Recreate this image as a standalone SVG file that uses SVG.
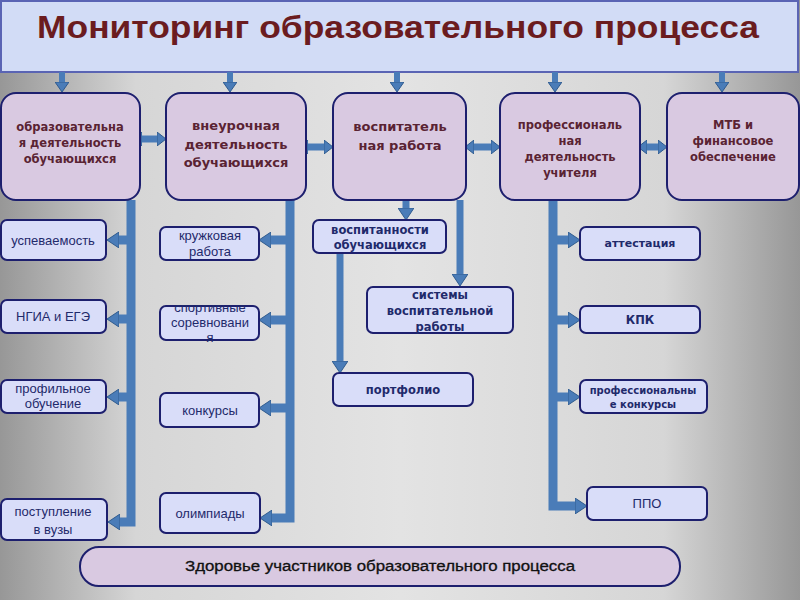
<svg xmlns="http://www.w3.org/2000/svg" width="800" height="600" viewBox="0 0 800 600">
<defs>
<linearGradient id="bg" x1="0" y1="0" x2="1" y2="0">
<stop offset="0" stop-color="#979797"/>
<stop offset="0.17" stop-color="#d6d6d6"/>
<stop offset="0.5" stop-color="#e3e3e3"/>
<stop offset="0.83" stop-color="#d6d6d6"/>
<stop offset="1" stop-color="#979797"/>
</linearGradient>
<marker id="h" viewBox="0 -8 12 16" refX="0" refY="0" markerWidth="12" markerHeight="16" markerUnits="userSpaceOnUse" orient="auto-start-reverse">
<path d="M0,-8 L12,0 L0,8 z" fill="#4a7cb8" stroke="#2f5a8e" stroke-width="1"/>
</marker>
<marker id="hd" viewBox="0 -7 9 14" refX="0" refY="0" markerWidth="9" markerHeight="14" markerUnits="userSpaceOnUse" orient="auto-start-reverse">
<path d="M0,-7 L9,0 L0,7 z" fill="#4a7cb8" stroke="#2f5a8e" stroke-width="1"/>
</marker>
<marker id="hs" viewBox="0 -7 10 14" refX="0" refY="0" markerWidth="10" markerHeight="14" markerUnits="userSpaceOnUse" orient="auto">
<path d="M0,-7 L10,0 L0,7 z" fill="#4a7cb8" stroke="#2f5a8e" stroke-width="1"/>
</marker>
</defs>
<style>
.top{fill:#d9c9e1;stroke:#1d1f6e;stroke-width:2}
.sub{fill:#d9ddf9;stroke:#1d1f6e;stroke-width:2}
.tt{font-family:"DejaVu Sans",sans-serif;font-weight:bold;fill:#5a2333;text-anchor:middle}
.st{font-family:"Liberation Sans",Arial,sans-serif;fill:#1f2a6b;text-anchor:middle;font-size:13px}
.sb{font-family:"DejaVu Sans",sans-serif;font-weight:bold;fill:#1f2a6b;text-anchor:middle}
.c{fill:none;stroke:#4a7cb8;stroke-width:9;stroke-linejoin:miter}
.c7{fill:none;stroke:#4a7cb8;stroke-width:7}
.cs{fill:none;stroke:#4a7cb8;stroke-width:6}
</style>
<rect x="0" y="0" width="800" height="600" fill="url(#bg)"/>

<g id="title">
<rect x="1" y="1" width="797" height="71" fill="#d2dcf6" stroke="#5a64b4" stroke-width="2"/>
<text x="398" y="38" font-family="'Liberation Sans Narrow','Liberation Sans',Arial,sans-serif" font-weight="bold" font-size="32" fill="#6b1c1f" text-anchor="middle" textLength="722" lengthAdjust="spacingAndGlyphs">Мониторинг образовательного процесса</text>
</g>

<g id="connectors">
<line class="cs" x1="62" y1="72" x2="62" y2="82" marker-end="url(#hs)"/>
<line class="cs" x1="230" y1="72" x2="230" y2="82" marker-end="url(#hs)"/>
<line class="cs" x1="397" y1="72" x2="397" y2="82" marker-end="url(#hs)"/>
<line class="cs" x1="555" y1="72" x2="555" y2="82" marker-end="url(#hs)"/>
<line class="cs" x1="722" y1="72" x2="722" y2="82" marker-end="url(#hs)"/>

<line class="c7" x1="142" y1="139" x2="157" y2="139" marker-start="url(#hd)" marker-end="url(#hd)"/>
<line class="c7" x1="308" y1="147" x2="324" y2="147" marker-start="url(#hd)" marker-end="url(#hd)"/>
<line class="c7" x1="474" y1="147" x2="491" y2="147" marker-start="url(#hd)" marker-end="url(#hd)"/>
<line class="c7" x1="647" y1="147" x2="658" y2="147" marker-start="url(#hd)" marker-end="url(#hd)"/>

<path class="c" d="M131,200 V522 H120" marker-end="url(#h)"/>
<line class="c" x1="127" y1="240" x2="119" y2="240" marker-end="url(#h)"/>
<line class="c" x1="127" y1="319" x2="119" y2="319" marker-end="url(#h)"/>
<line class="c" x1="127" y1="397" x2="119" y2="397" marker-end="url(#h)"/>

<path class="c" d="M290,200 V518 H272" marker-end="url(#h)"/>
<line class="c" x1="286" y1="240" x2="271" y2="240" marker-end="url(#h)"/>
<line class="c" x1="286" y1="320" x2="271" y2="320" marker-end="url(#h)"/>
<line class="c" x1="286" y1="408" x2="271" y2="408" marker-end="url(#h)"/>

<path class="c" d="M553,200 V506 H575" marker-end="url(#h)"/>
<line class="c" x1="557" y1="240" x2="568" y2="240" marker-end="url(#h)"/>
<line class="c" x1="557" y1="320" x2="568" y2="320" marker-end="url(#h)"/>
<line class="c" x1="557" y1="397" x2="568" y2="397" marker-end="url(#h)"/>

<line class="c7" x1="406" y1="200" x2="406" y2="208" marker-end="url(#h)"/>
<line class="c7" x1="460" y1="200" x2="460" y2="274" marker-end="url(#h)"/>
<line class="c7" x1="340" y1="253" x2="340" y2="361" marker-end="url(#h)"/>
</g>

<g id="n1">
<rect class="top" x="1" y="93" width="139" height="107" rx="15"/>
<text class="tt" font-size="11.5"><tspan x="70" y="131">образовательна</tspan><tspan x="70" y="147">я деятельность</tspan><tspan x="70" y="163">обучающихся</tspan></text>
</g>
<g id="n2">
<rect class="top" x="166" y="93" width="140" height="107" rx="15"/>
<text class="tt" font-size="13"><tspan x="236" y="130">внеурочная</tspan><tspan x="236" y="149">деятельность</tspan><tspan x="236" y="167">обучающихся</tspan></text>
</g>
<g id="n3">
<rect class="top" x="333" y="93" width="133" height="107" rx="15"/>
<text class="tt" font-size="13"><tspan x="400" y="131">воспитатель</tspan><tspan x="400" y="150">ная работа</tspan></text>
</g>
<g id="n4">
<rect class="top" x="500" y="93" width="140" height="107" rx="15"/>
<text class="tt" font-size="11.5"><tspan x="570" y="129">профессиональ</tspan><tspan x="570" y="145">ная</tspan><tspan x="570" y="161">деятельность</tspan><tspan x="570" y="177">учителя</tspan></text>
</g>
<g id="n5">
<rect class="top" x="667" y="93" width="132" height="107" rx="15"/>
<text class="tt" font-size="11.5"><tspan x="733" y="129">МТБ и</tspan><tspan x="733" y="145">финансовое</tspan><tspan x="733" y="161">обеспечение</tspan></text>
</g>

<g id="l1"><rect class="sub" x="1" y="220" width="105" height="40" rx="6"/><text class="st" x="53" y="245">успеваемость</text></g>
<g id="l2"><rect class="sub" x="1" y="300" width="105" height="33" rx="6"/><text class="st" x="53" y="321">НГИА и ЕГЭ</text></g>
<g id="l3"><rect class="sub" x="1" y="380" width="105" height="33" rx="6"/><text class="st" font-size="11.5"><tspan x="53" y="393">профильное</tspan><tspan x="53" y="408">обучение</tspan></text></g>
<g id="l4"><rect class="sub" x="1" y="499" width="106" height="41" rx="6"/><text class="st"><tspan x="53" y="516">поступление</tspan><tspan x="53" y="534">в вузы</tspan></text></g>

<g id="m1"><rect class="sub" x="160" y="227" width="99" height="33" rx="6"/><text class="st"><tspan x="210" y="240">кружковая</tspan><tspan x="210" y="256">работа</tspan></text></g>
<g id="m2"><rect class="sub" x="160" y="306" width="99" height="34" rx="6"/><text class="st" font-size="12"><tspan x="210" y="312">спортивные</tspan><tspan x="210" y="327">соревновани</tspan><tspan x="210" y="342">я</tspan></text></g>
<g id="m3"><rect class="sub" x="160" y="393" width="99" height="34" rx="6"/><text class="st" x="210" y="415">конкурсы</text></g>
<g id="m4"><rect class="sub" x="160" y="493" width="100" height="40" rx="6"/><text class="st" x="210" y="518">олимпиады</text></g>

<g id="v1"><rect class="sub" x="313" y="220" width="133" height="33" rx="6"/><text class="sb" font-size="11.5"><tspan x="380" y="234">воспитанности</tspan><tspan x="380" y="249">обучающихся</tspan></text></g>
<g id="v2"><rect class="sub" x="367" y="287" width="146" height="46" rx="6"/><text class="sb" font-size="11.5"><tspan x="440" y="299">системы</tspan><tspan x="440" y="315">воспитательной</tspan><tspan x="440" y="331">работы</tspan></text></g>
<g id="v3"><rect class="sub" x="333" y="373" width="140" height="33" rx="6"/><text class="sb" font-size="11.5" x="403" y="394">портфолио</text></g>

<g id="r1"><rect class="sub" x="580" y="227" width="120" height="33" rx="6"/><text class="sb" font-size="11" x="640" y="247">аттестация</text></g>
<g id="r2"><rect class="sub" x="580" y="306" width="120" height="27" rx="6"/><text class="sb" font-size="11.5" x="640" y="324">КПК</text></g>
<g id="r3"><rect class="sub" x="580" y="380" width="127" height="33" rx="6"/><text class="sb" font-size="10"><tspan x="643" y="394">профессиональны</tspan><tspan x="643" y="408">е конкурсы</tspan></text></g>
<g id="r4"><rect class="sub" x="587" y="487" width="120" height="33" rx="6"/><text class="st" font-size="12.5" x="647" y="508">ППО</text></g>

<g id="health">
<rect x="80" y="547" width="600" height="39" rx="19" fill="#d9c9e1" stroke="#1d1f6e" stroke-width="2"/>
<text x="380" y="571" font-family="'Liberation Sans',Arial,sans-serif" font-size="14" fill="#111" text-anchor="middle" stroke="#111" stroke-width="0.3" textLength="390" lengthAdjust="spacingAndGlyphs">Здоровье участников образовательного процесса</text>
</g>
</svg>
